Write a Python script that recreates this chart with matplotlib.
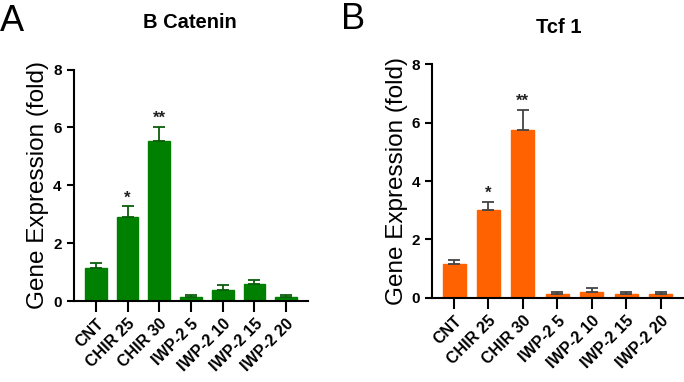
import numpy as np
import matplotlib
matplotlib.use("Agg")
import matplotlib.pyplot as plt

plt.rcParams['font.family'] = ['Liberation Sans', 'DejaVu Sans']

groups = ["CNT", "CHIR 25", "CHIR 30", "IWP-2 5", "IWP-2 10", "IWP-2 15", "IWP-2 20"]

# B Catenin
bcat_mean = [1.15, 2.9, 5.52, 0.14, 0.38, 0.58, 0.14]
bcat_err = [0.15, 0.37, 0.5, 0.08, 0.16, 0.16, 0.08]
bcat_stars = ["", "*", "**", "", "", "", ""]

# Tcf 1
tcf_mean = [1.15, 3.02, 5.75, 0.12, 0.18, 0.12, 0.12]
tcf_err = [0.15, 0.27, 0.7, 0.08, 0.15, 0.08, 0.08]
tcf_stars = ["", "*", "**", "", "", "", ""]


def draw_panel(ax, means, errs, stars, color, ecolor, xlim, width):
    x = np.arange(len(groups))
    ax.bar(x, means, width=width, color=color, edgecolor=color, zorder=2)
    ax.errorbar(x, means, yerr=[np.zeros(len(errs)), errs], fmt="none",
                ecolor=ecolor, elinewidth=1.3, capsize=4, capthick=1.3, zorder=3)
    for xi, m, e, s in zip(x, means, errs, stars):
        if s:
            ax.text(xi, m + e + 0.02, s, ha="center", va="bottom",
                    fontsize=12, fontweight="bold", color="#222222")
    ax.set_xlim(*xlim)
    ax.set_ylim(0, 8)
    ax.set_yticks([0, 2, 4, 6, 8])
    ax.set_xticks(x)
    ax.set_xticklabels(groups, rotation=45, ha="right", rotation_mode="anchor",
                       fontsize=11.5, fontweight="bold")
    for lab in ax.get_yticklabels():
        lab.set_fontweight("bold")
        lab.set_fontsize(11)
    ax.tick_params(axis="y", length=5, width=1.5)
    ax.tick_params(axis="x", length=8, width=1.5, pad=3)
    for side in ["top", "right"]:
        ax.spines[side].set_visible(False)
    for side in ["left", "bottom"]:
        ax.spines[side].set_linewidth(1.5)
    ax.set_ylabel("Gene Expression (fold)", fontsize=17.5, labelpad=3)


fig = plt.figure(figsize=(6.84, 3.82), dpi=100)

ax1 = fig.add_axes([0.1075, 0.212, 0.343, 0.606])
draw_panel(ax1, bcat_mean, bcat_err, bcat_stars, "#008000", "#0b5e0b",
           (-0.70, 6.69), 0.68)

ax2 = fig.add_axes([0.6316, 0.2207, 0.368, 0.6105])
draw_panel(ax2, tcf_mean, tcf_err, tcf_stars, "#ff6200", "#444444",
           (-0.64, 6.67), 0.67)

fig.text(0.278, 0.942, "B Catenin", fontsize=14.5, fontweight="bold",
         ha="center", va="center")
fig.text(0.817, 0.927, "Tcf 1", fontsize=14.5, fontweight="bold",
         ha="center", va="center")

fig.text(0.0, 0.99, "A", fontsize=26, ha="left", va="top")
fig.text(0.498, 0.995, "B", fontsize=26, ha="left", va="top")

fig.savefig("out.png", dpi=100)
